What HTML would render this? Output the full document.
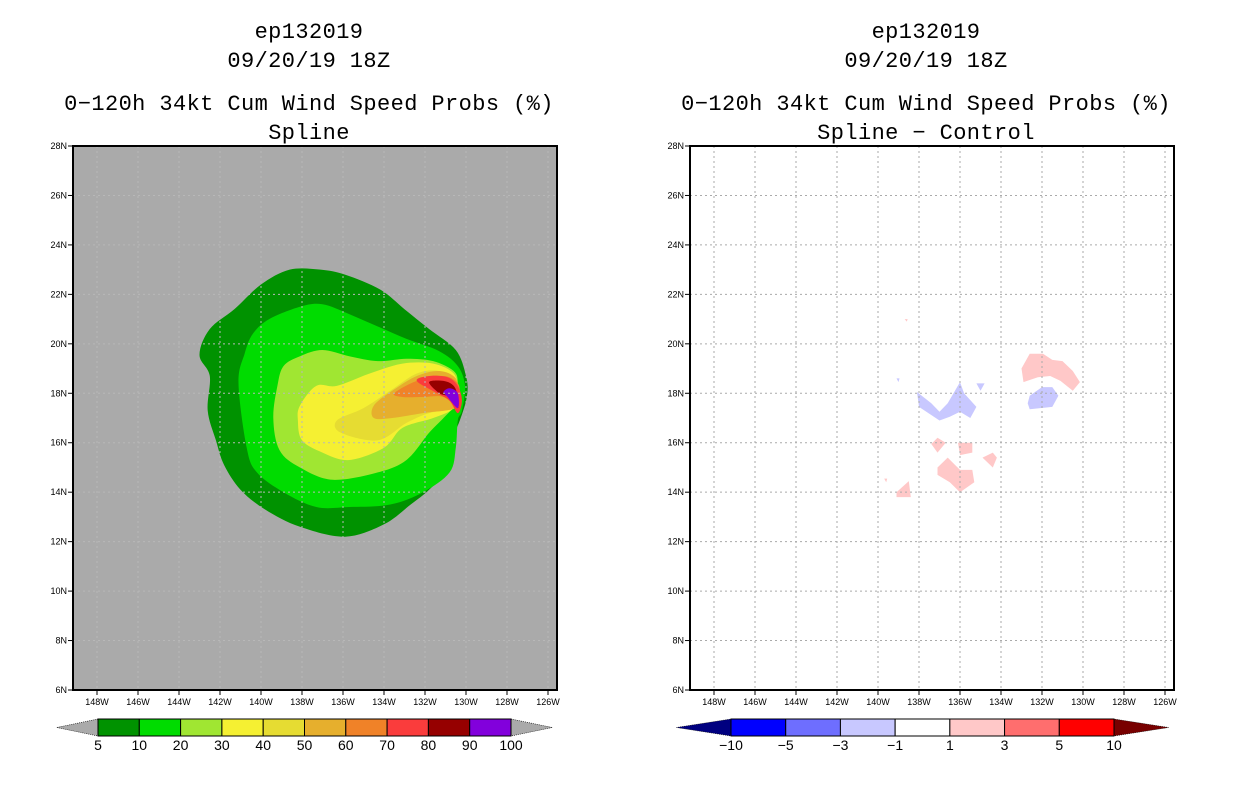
<!DOCTYPE html>
<html><head><meta charset="utf-8"><style>
body{margin:0;background:#fff;width:1236px;height:800px;overflow:hidden}
svg{display:block}
text{font-family:"Liberation Sans",sans-serif;fill:#000}
text.ttl{font-family:"Liberation Mono",monospace}
</style></head><body>
<svg id="chart" width="1236" height="800"></svg>
<script>
// ---- data ----
const lonTicks=[148,146,144,142,140,138,136,134,132,130,128,126];
const latTicks=[28,26,24,22,20,18,16,14,12,10,8,6];
const leftLevels=['5','10','20','30','40','50','60','70','80','90','100'];
const leftColors=['#009200','#00dc00','#a0e632','#f5f032','#e6dc32','#e6af2d','#f08228','#fa3c3c','#960000','#8200dc'];
const rightLevels=['-10','-5','-3','-1','1','3','5','10'];
const rightColors=['#0000ff','#6e6eff','#c8c8ff','#ffffff','#ffc8c8','#ff6e6e','#ff0000'];
// contour polygons: [lonW, lat] pairs, filled in increasing level order
const c5=[[138.6,23.0],[137.1,23.0],[135.9,22.8],[134.2,22.2],[133.0,21.4],[131.8,20.6],[130.5,19.75],[130.0,18.7],[129.95,17.9],[130.3,16.9],[130.8,15.9],[130.9,14.9],[131.8,14.1],[132.7,13.5],[134.0,12.7],[135.9,12.2],[138.1,12.6],[139.8,13.3],[141.0,14.1],[141.8,15.1],[142.2,16.1],[142.6,17.3],[142.5,18.7],[143.0,19.55],[142.5,20.6],[141.3,21.4],[140.0,22.4]];
const c10=[[138.1,21.5],[137.0,21.6],[135.7,21.2],[134.3,20.7],[132.9,20.2],[131.3,19.7],[130.4,19.1],[130.05,18.3],[130.2,17.3],[130.4,16.9],[130.5,15.8],[130.8,14.8],[132.1,14.0],[133.7,13.5],[135.7,13.4],[137.3,13.4],[138.9,14.0],[140.2,14.8],[140.7,15.8],[141.1,18.4],[140.8,19.6],[140.4,20.4],[139.6,21.0]];
const c20=[[138.1,19.5],[137.0,19.75],[135.7,19.5],[134.3,19.3],[132.9,19.4],[131.6,19.3],[130.6,18.9],[130.4,18.4],[130.5,17.6],[131.1,17.0],[131.8,16.4],[132.9,15.3],[134.3,14.8],[136.5,14.5],[138.1,15.0],[139.1,15.7],[139.4,17.0],[139.2,18.3],[138.9,19.1]];
const c30=[[138.1,17.5],[137.3,18.3],[136.3,18.3],[134.7,18.8],[133.1,19.2],[131.6,19.2],[130.6,18.8],[130.4,18.1],[130.6,17.4],[131.6,17.0],[133.1,16.6],[134.0,15.8],[135.7,15.3],[137.0,15.6],[138.0,16.1],[138.2,16.9]];
const c40=[[136.3,16.9],[135.0,17.4],[133.7,18.1],[132.4,18.8],[131.3,18.9],[130.5,18.5],[130.4,17.9],[130.6,17.4],[131.8,17.2],[132.9,16.8],[134.3,16.1],[136.1,16.4]];
const c50=[[134.5,17.5],[133.6,18.1],[132.4,18.7],[131.3,18.9],[130.5,18.6],[130.4,17.9],[130.5,17.4],[132.1,17.2],[133.6,17.0],[134.5,17.0]];
const c60=[[133.5,18.0],[132.4,18.5],[131.1,18.7],[130.4,18.4],[130.3,17.85],[130.4,17.4],[131.1,17.85],[132.1,17.85],[133.1,17.85]];
const c70=[[132.4,18.5],[131.8,18.7],[130.9,18.65],[130.4,18.3],[130.2,17.7],[130.4,17.2],[130.8,17.7],[131.4,18.0]];
const c80=[[131.8,18.45],[131.1,18.5],[130.6,18.3],[130.4,17.85],[130.4,17.4],[130.8,17.85],[131.3,18.0]];
const c90=[[131.1,18.05],[130.8,18.2],[130.4,18.0],[130.4,17.4],[130.9,17.85]];
const leftContours=[c5,c10,c20,c30,c40,c50,c60,c70,c80,c90];
// difference field polygons (Spline - Control)
const diffPos=[
 [[133.0,19.0],[132.6,19.6],[131.95,19.6],[131.5,19.35],[131.0,19.3],[130.5,18.9],[130.15,18.45],[130.5,18.1],[131.1,18.5],[131.6,18.7],[132.2,18.65],[132.9,18.45]],
 [[137.1,16.2],[136.7,16.0],[137.1,15.6],[137.4,15.95]],
 [[136.1,16.0],[135.4,16.0],[135.4,15.6],[136.0,15.5]],
 [[134.9,15.4],[134.4,15.6],[134.2,15.4],[134.4,15.0]],
 [[137.1,15.0],[136.6,15.4],[136.0,14.9],[135.4,14.9],[135.3,14.4],[136.0,14.0],[136.5,14.4],[137.1,14.7]],
 [[139.1,14.0],[138.5,14.45],[138.4,13.8],[139.1,13.8]],
 [[139.7,14.55],[139.55,14.55],[139.6,14.4]],
 [[138.7,21.0],[138.55,21.0],[138.6,20.9]]
];
const diffNeg=[
 [[132.6,17.9],[132.0,18.25],[131.5,18.25],[131.2,17.9],[131.5,17.45],[132.6,17.35],[132.7,17.6]],
 [[138.1,18.05],[137.4,17.6],[137.0,17.25],[136.6,17.6],[136.0,18.45],[135.8,18.0],[135.2,17.45],[135.5,17.0],[136.0,17.25],[136.5,17.05],[137.0,16.9],[138.0,17.45]],
 [[135.2,18.4],[134.8,18.4],[135.0,18.1]],
 [[139.1,18.6],[138.95,18.6],[139.0,18.45]]
];
// ---- drawing ----
const NS='http://www.w3.org/2000/svg';
const svg=document.getElementById('chart');
function el(t,a,p){const e=document.createElementNS(NS,t);for(const k in a)e.setAttribute(k,a[k]);(p||svg).appendChild(e);return e;}
function xs(lonW,off){return off+97+(148-lonW)*20.5;}
function ys(lat){return 690-(lat-6)*24.727;}
function poly(pts,off){return pts.map(p=>xs(p[0],off).toFixed(1)+','+ys(p[1]).toFixed(1)).join(' ');}
function smooth(pts,off){
  const P=pts.map(p=>[xs(p[0],off),ys(p[1])]);const n=P.length;
  let d='M'+P[0][0].toFixed(1)+','+P[0][1].toFixed(1);
  for(let i=0;i<n;i++){
    const p0=P[(i-1+n)%n],p1=P[i],p2=P[(i+1)%n],p3=P[(i+2)%n];
    const k=1/6;
    d+=' C'+(p1[0]+(p2[0]-p0[0])*k).toFixed(1)+','+(p1[1]+(p2[1]-p0[1])*k).toFixed(1)+' '+
       (p2[0]-(p3[0]-p1[0])*k).toFixed(1)+','+(p2[1]-(p3[1]-p1[1])*k).toFixed(1)+' '+
       p2[0].toFixed(1)+','+p2[1].toFixed(1);
  }
  return d+'Z';
}

function panel(off,bg,name,titles){
  const g=el('g',{});
  
  
  const cx=off+309;
  titles.forEach((t,i)=>{
    const tx=el('text',{class:'ttl',x:cx,y:[38,67,110,139][i],'font-size':22,'text-anchor':'middle','letter-spacing':'0.4'},g);
    tx.textContent=t;
    
    
  });
  const r=el('rect',{x:off+73,y:146,width:484,height:544,fill:bg},g);
  
  
  return g;
}
function grid(g,off,color){
  lonTicks.forEach(l=>{const x=xs(l,off);const ln=el('line',{x1:x,y1:146,x2:x,y2:690,stroke:color,'stroke-width':1,'stroke-dasharray':'2,3'},g);
    });
  latTicks.forEach(l=>{const y=ys(l);const ln=el('line',{x1:off+73,y1:y,x2:off+557,y2:y,stroke:color,'stroke-width':1,'stroke-dasharray':'2,3'},g);
    });
}
function axes(g,off){
  el('rect',{x:off+73,y:146,width:484,height:544,fill:'none',stroke:'#000','stroke-width':2},g);
  lonTicks.forEach(l=>{const x=xs(l,off);
    el('line',{x1:x,y1:690,x2:x,y2:695,stroke:'#000'},g);
    const t=el('text',{x:x,y:705,'font-size':9,'text-anchor':'middle'},g);t.textContent=l+'W';
    });
  latTicks.forEach(l=>{const y=ys(l);
    el('line',{x1:off+68,y1:y,x2:off+73,y2:y,stroke:'#000'},g);
    const t=el('text',{x:off+67,y:y+3,'font-size':9,'text-anchor':'end'},g);t.textContent=l+'N';
    });
}
function colorbar(g,x0,x1,y0,h,colors,labels,lcol,rcol,name){
  const cb=el('g',{},g);
  
  
  const w=(x1-x0)/colors.length, tw=w;
  el('polygon',{points:`${x0},${y0} ${x0},${y0+h} ${x0-tw},${y0+h/2}`,fill:lcol,stroke:'#000','stroke-width':0.6,'stroke-dasharray':'1,1'},cb);
  el('polygon',{points:`${x1},${y0} ${x1},${y0+h} ${x1+tw},${y0+h/2}`,fill:rcol,stroke:'#000','stroke-width':0.6,'stroke-dasharray':'1,1'},cb);
  colors.forEach((c,i)=>{const r=el('rect',{x:x0+i*w,y:y0,width:w,height:h,fill:c,stroke:'#000','stroke-width':1},cb);
    });
  labels.forEach((l,i)=>{const t=el('text',{x:x0+i*w,y:y0+h+14,'font-size':14,'text-anchor':'middle'},cb);t.textContent=l.replace('-','\u2212');
    });
}
// left
const L=panel(0,'#aaaaaa','left-panel-spline',['ep132019','09/20/19 18Z','0\u2212120h 34kt Cum Wind Speed Probs (%)','Spline']);
leftContours.forEach((c,i)=>{const p=el('path',{d:smooth(c,0),fill:leftColors[i]},L);
  });
grid(L,0,'#b8b8b8');
axes(L,0);
colorbar(L,98,511,719,17,leftColors,leftLevels,'#aaaaaa','#aaaaaa','left-colorbar');
// right
const R=panel(617,'#ffffff','right-panel-difference',['ep132019','09/20/19 18Z','0\u2212120h 34kt Cum Wind Speed Probs (%)','Spline \u2212 Control']);
diffPos.forEach(c=>{const p=el('polygon',{points:poly(c,617),fill:'#ffc8c8'},R);
  });
diffNeg.forEach(c=>{const p=el('polygon',{points:poly(c,617),fill:'#c8c8ff'},R);
  });
grid(R,617,'#aaaaaa');
axes(R,617);
colorbar(R,731,1114,719,17,rightColors,rightLevels,'#000080','#780000','right-colorbar');
</script>
</body></html>
